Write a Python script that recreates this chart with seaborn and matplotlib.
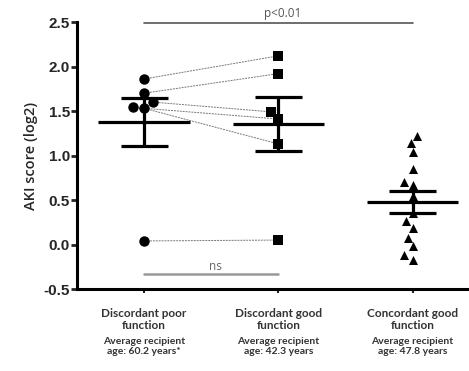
import numpy as np
import pandas as pd
import matplotlib
matplotlib.use("Agg")
import matplotlib.pyplot as plt
import seaborn as sns

# === Data ===
groups = ["Discordant poor\nfunction", "Discordant good\nfunction", "Concordant good\nfunction"]
ages = ["Average recipient\nage: 60.2 years*", "Average recipient\nage: 42.3 years",
        "Average recipient\nage: 47.8 years"]

# paired kidneys: i-th poor value goes with i-th good value
poor_vals = [1.86, 1.70, 1.60, 1.54, 1.53, 0.04]
good_vals = [2.12, 1.92, 1.49, 1.41, 1.13, 0.05]
conc_vals = [1.22, 1.14, 1.04, 0.85, 0.67, 0.70, 0.54, 0.35, 0.26, 0.19,
             0.07, -0.02, -0.17, -0.12]

df = pd.DataFrame({
    "group": [groups[0]] * len(poor_vals) + [groups[1]] * len(good_vals) + [groups[2]] * len(conc_vals),
    "aki": poor_vals + good_vals + conc_vals,
})

# --- Figure ---
sns.set_style("white")
plt.rcParams["font.family"] = ["Liberation Sans", "DejaVu Sans"]
fig = plt.figure(figsize=(4.69, 3.71), dpi=100)
ax = fig.add_axes([0.1642, 0.221, 0.8358, 0.7197])

markers = ["o", "s", "^"]
sizes = [7.5, 7, 6.5]
swarms = []
for g, m, sz in zip(groups, markers, sizes):
    n_before = len(ax.collections)
    sns.swarmplot(data=df[df["group"] == g], x="group", y="aki", order=groups,
                  marker=m, color="black", size=sz, linewidth=0, zorder=3, ax=ax)
    # keep the collection that actually holds this group's points
    new = [c for c in ax.collections[n_before:] if len(c.get_offsets()) > 0]
    swarms.append(new[0])

ax.set_xlim(-0.5, 2.42)
ax.set_ylim(-0.5, 2.5)
fig.canvas.draw()

# --- paired lines between the two discordant groups ---
p_xy = np.asarray(swarms[0].get_offsets())
g_xy = np.asarray(swarms[1].get_offsets())
for a, b in zip(p_xy, g_xy):
    ax.plot([a[0], b[0]], [a[1], b[1]], color="#777777", lw=0.7,
            ls=(0, (2, 1)), zorder=2)

# --- mean +/- SEM ---
stats = df.groupby("group", sort=False)["aki"].agg(["mean", "sem"]).reindex(groups)
for i, (mu, se) in enumerate(zip(stats["mean"], stats["sem"])):
    ax.hlines(mu, i - 0.34, i + 0.34, color="black", lw=2.3, zorder=4)
    ax.vlines(i, mu - se, mu + se, color="black", lw=2.3, zorder=4)
    ax.hlines([mu - se, mu + se], i - 0.175, i + 0.175, color="black", lw=2.3, zorder=4)

# --- significance brackets ---
ax.plot([0, 2], [2.49, 2.49], color="#555555", lw=1.2, clip_on=False, zorder=2)
ax.text(1.03, 2.52, "p<0.01", ha="center", va="bottom", fontsize=8.5,
        color="#555555", family=["Open Sans", "DejaVu Sans"])
ax.plot([0, 1], [-0.335, -0.335], color="#999999", lw=1.8, zorder=2)
ax.text(0.53, -0.32, "ns", ha="center", va="bottom", fontsize=8.5,
        color="#666666", family=["Open Sans", "DejaVu Sans"])

# --- axes styling ---
sns.despine(ax=ax)
for s in ["left", "bottom"]:
    ax.spines[s].set_linewidth(2.2)
    ax.spines[s].set_color("black")
ax.set_yticks(np.arange(-0.5, 2.51, 0.5))
ax.set_yticklabels([f"{v:.1f}" for v in np.arange(-0.5, 2.51, 0.5)],
                   fontsize=11, fontweight="bold")
ax.tick_params(axis="y", direction="out", length=4, width=2, pad=1, left=True)
ax.tick_params(axis="x", direction="out", length=3, width=1.5, pad=11, bottom=True)
ax.set_xticks(range(3))
ax.set_xticklabels(groups, fontsize=8.5, fontweight="bold", color="#333333",
                   family=["Lato", "DejaVu Sans"], linespacing=1.1)
for i, t in enumerate(ages):
    ax.annotate(t, xy=(i, 0), xycoords=("data", "axes fraction"),
                xytext=(0, -34.5), textcoords="offset points", ha="center", va="top",
                fontsize=7.5, fontweight="bold", color="#333333",
                family=["Lato", "DejaVu Sans"], linespacing=1.2, annotation_clip=False)

ax.set_xlabel("")
ax.set_ylabel("AKI score (log2)", fontsize=10.5, fontweight="semibold",
              family=["Open Sans", "DejaVu Sans"], labelpad=4)

fig.savefig("out.png", dpi=100)
